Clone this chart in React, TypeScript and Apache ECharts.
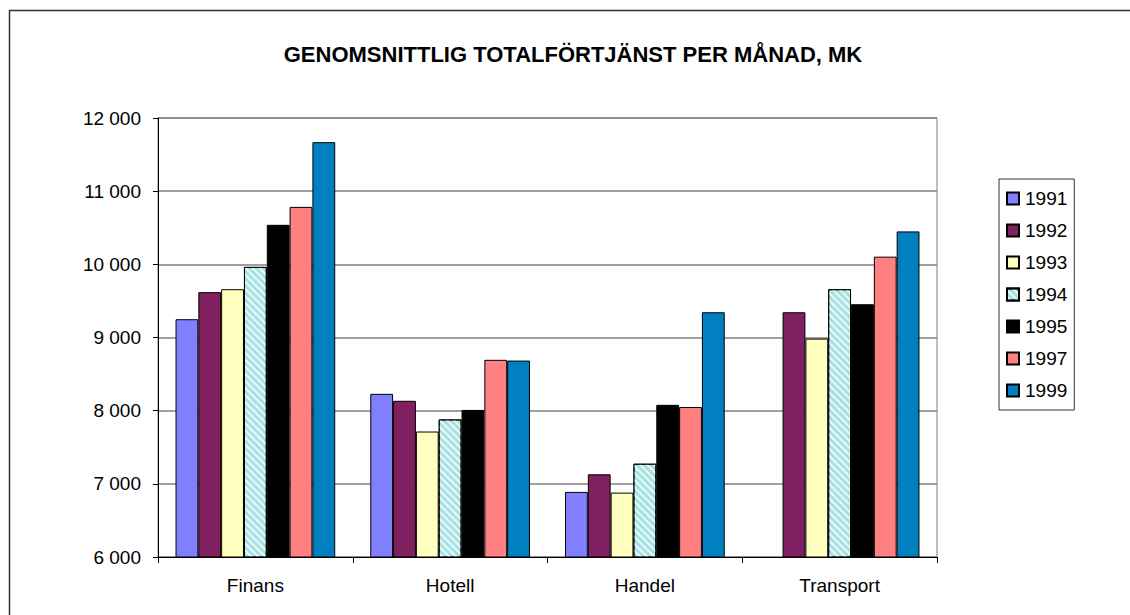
import React, { useEffect, useRef } from "react";
import * as echarts from "echarts";

const categories = ["Finans", "Hotell", "Handel", "Transport"];
const years = ["1991", "1992", "1993", "1994", "1995", "1997", "1999"];
const v1991 = [9250, 8230, 6890, null];
const v1992 = [9620, 8135, 7130, 9345];
const v1993 = [9660, 7715, 6880, 8985];
const v1994 = [9965, 7880, 7275, 9660];
const v1995 = [10540, 8010, 8080, 9455];
const v1997 = [10785, 8695, 8050, 10105];
const v1999 = [11670, 8685, 9345, 10450];
const seriesValues = [v1991, v1992, v1993, v1994, v1995, v1997, v1999];
const colors = ["#8080ff", "#802060", "#ffffc0", "#a6e2e2", "#000000", "#ff8080", "#0080c0"];
const yTicks = [6000, 7000, 8000, 9000, 10000, 11000, 12000];
const title = "GENOMSNITTLIG TOTALFÖRTJÄNST PER MÅNAD, MK";

const fmt = (v: number) => {
  const s = String(v);
  return s.length > 3 ? s.slice(0, s.length - 3) + " " + s.slice(-3) : s;
};

export default function App() {
  const ref = useRef<HTMLDivElement>(null);
  useEffect(() => {
    if (!ref.current) return;
    const chart = echarts.init(ref.current, undefined, { renderer: "svg" });
    const font = "Liberation Sans, Arial, sans-serif";
    chart.setOption({
      animation: false,
      backgroundColor: "#ffffff",
      textStyle: { fontFamily: font },
      title: {
        text: title,
        left: 568,
        top: 38,
        textAlign: "center",
        textStyle: { fontFamily: font, fontSize: 22, fontWeight: "bold", color: "#000" },
      },
      graphic: [
        {
          type: "rect",
          shape: { x: 9.5, y: 10.5, width: 1200, height: 700 },
          style: { fill: "none", stroke: "#333", lineWidth: 1.5 },
          silent: true,
        },
      ],
      legend: {
        orient: "vertical",
        left: 999,
        top: 179,
        data: years,
        itemWidth: 12,
        itemHeight: 12,
        itemGap: 13,
        padding: [10, 7, 10, 7],
        borderColor: "#333",
        borderWidth: 1,
        textStyle: { fontFamily: font, fontSize: 19, color: "#000", padding: [0, 0, 0, 1] },
        icon: "rect",
      },
      grid: {
        left: 158,
        right: 193,
        top: 118,
        bottom: 58,
        show: true,
        borderColor: "#808080",
        borderWidth: 1,
      },
      xAxis: {
        type: "category",
        data: categories,
        axisLine: { lineStyle: { color: "#000", width: 1 } },
        axisTick: { show: true, length: 6, inside: false, alignWithLabel: false, lineStyle: { color: "#000" } },
        axisLabel: { fontFamily: font, fontSize: 19, color: "#000", margin: 19 },
        splitLine: { show: false },
      },
      yAxis: {
        type: "value",
        min: 6000,
        max: 12000,
        interval: 1000,
        axisLine: { show: true, lineStyle: { color: "#000", width: 1 } },
        axisTick: { show: true, length: 5, lineStyle: { color: "#000" } },
        axisLabel: {
          fontFamily: font,
          fontSize: 19,
          color: "#000",
          margin: 17,
          formatter: (v: number) => (yTicks.includes(v) ? fmt(v) : ""),
        },
        splitLine: { show: true, lineStyle: { color: "#808080", width: 1.5 } },
      },
      series: years.map((y, i) => ({
        name: y,
        type: "bar",
        data: seriesValues[i],
        barGap: "0%",
        barCategoryGap: "18%",
        itemStyle: {
          color: colors[i],
          borderColor: "#000",
          borderWidth: 1,
          ...(y === "1994"
            ? {
                decal: {
                  symbol: "rect",
                  symbolSize: 1,
                  color: "rgba(255,255,255,0.75)",
                  dashArrayX: [1, 0],
                  dashArrayY: [2, 3],
                  rotation: Math.PI / 4,
                },
              }
            : {}),
        },
      })),
    });
    return () => chart.dispose();
  }, []);
  return (
    <div
      ref={ref}
      style={{ position: "absolute", left: 0, top: 0, width: 1130, height: 615 }}
    />
  );
}
